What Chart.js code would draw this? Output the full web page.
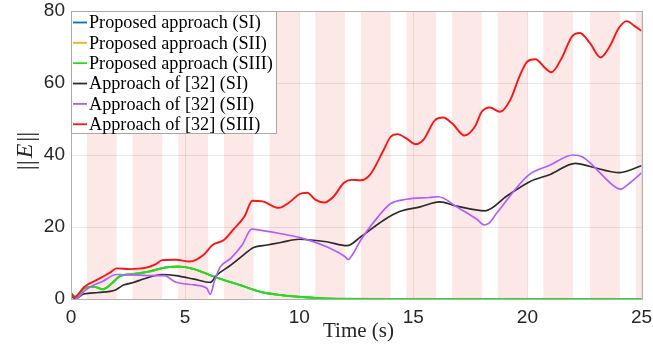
<!DOCTYPE html>
<html><head><meta charset="utf-8">
<script src="https://cdn.jsdelivr.net/npm/chart.js@4.4.1/dist/chart.umd.min.js"></script>
<style>html,body{margin:0;padding:0;background:#fff}#wrap{width:653px;height:349px}</style>
</head><body><div id="wrap"><canvas id="c" width="653" height="349"></canvas></div>
<script>
// ---------- data ----------
const xTicks = [0, 5, 10, 15, 20, 25];
const yTicks = [0, 20, 40, 60, 80];
const seriesNames = ['Proposed approach (SI)', 'Proposed approach (SII)', 'Proposed approach (SIII)',
  'Approach of [32] (SI)', 'Approach of [32] (SII)', 'Approach of [32] (SIII)'];
const bandStarts = [0.7, 2.7, 4.7, 6.7, 8.7, 10.7, 12.7, 14.7, 16.7, 18.7, 20.7, 22.75, 24.75];
const bandEnds   = [2.0, 4.0, 6.0, 8.0, 10.0, 12.0, 14.0, 16.0, 18.0, 20.0, 22.0, 24.05, 25.0];

const proposedSI = [[0,1.6],[0.18,0.6],[0.6,3],[1.0,3.4],[1.4,2.7],[1.8,4.4],[2.15,6.4],[2.7,6.9],[3.4,7.6],[4.1,8.7],[4.7,9.0],[5.4,8.3],[5.7,7.6],[6.5,5.7],[7.4,3.9],[8.3,2.0],[9.2,1.1],[10.0,0.6],[11,0.2],[12,0.05],[14,0],[25,0]];
const proposedSII = [[0,1.6],[0.18,0.6],[0.6,3],[1.0,3.4],[1.4,2.7],[1.8,4.4],[2.15,6.4],[2.7,6.9],[3.4,7.6],[4.1,8.7],[4.7,9.0],[5.4,8.3],[5.7,7.6],[6.5,5.7],[7.4,3.9],[8.3,2.0],[9.2,1.1],[10.0,0.6],[11,0.2],[12,0.05],[14,0],[25,0]];
const proposedSIII = [[0,1.6],[0.18,0.6],[0.6,3],[1.0,3.4],[1.4,2.7],[1.8,4.4],[2.15,6.4],[2.7,6.9],[3.4,7.6],[4.1,8.7],[4.7,9.0],[5.4,8.3],[5.7,7.6],[6.5,5.7],[7.4,3.9],[8.3,2.0],[9.2,1.1],[10.0,0.6],[11,0.2],[12,0.05],[14,0],[25,0]];
const ref32SI = [[0,0.8],[0.2,0.1],[0.55,1.4],[1.2,1.8],[1.95,2.5],[2.3,3.9],[2.7,4.5],[3.25,5.7],[4.0,6.8],[4.6,6.5],[5.4,5.5],[6.1,4.6],[6.4,6.7],[7.0,9.4],[7.55,12.2],[8.0,14.3],[8.6,15],[9.2,15.7],[10.0,16.6],[11.2,15.9],[12.1,14.8],[12.7,17.3],[13.7,21.9],[14.4,24.3],[15.3,25.6],[16.15,27],[16.9,25.8],[18.15,24.5],[19.1,28.6],[20.1,32.6],[21.0,34.6],[22.1,37.7],[22.75,36.8],[24.05,35.1],[25,37]];
const ref32SII = [[0,1.1],[0.25,0.2],[0.55,2],[0.85,3.4],[1.35,4.8],[2.0,6.8],[2.7,6.7],[3.4,6.5],[4.1,6.5],[4.55,4.8],[5.4,3.9],[5.95,3.0],[6.1,1.3],[6.3,5.3],[6.55,9],[7.0,11.3],[7.5,15],[7.92,19.4],[8.4,19],[9.15,18.2],[10.0,17.1],[11.2,14.5],[12.0,11.8],[12.15,11],[12.35,12.5],[12.7,16.4],[13.4,22.4],[13.98,26.4],[14.7,27.7],[15.7,28.2],[16.1,28.4],[16.9,25.6],[17.8,22.1],[18.1,20.6],[18.3,21],[18.65,23.8],[20.05,34.4],[21.0,37.2],[22.0,40],[22.4,39.5],[23.9,30.9],[24.1,30.5],[24.3,31.3],[25,35]];
const ref32SIII = [[0,1.5],[0.15,0.6],[0.6,3.5],[1.2,5.5],[1.7,7.3],[2.0,8.5],[2.6,8.3],[3.3,8.7],[3.7,9.6],[4.0,10.8],[4.6,10.9],[5.2,10.4],[5.8,12.2],[6.2,15],[6.7,16.4],[7.1,19.2],[7.6,22.9],[7.95,27.3],[8.4,27.1],[9.1,25.3],[9.6,27],[10.0,29.1],[10.35,29.5],[10.7,27.6],[11.1,26.8],[11.5,28.4],[11.95,32.2],[12.3,33.1],[12.7,33],[13.1,34.5],[13.7,41.4],[14.0,45],[14.3,45.8],[14.7,44.6],[15.1,43],[15.45,44.3],[15.95,49.7],[16.3,50.4],[16.7,48.8],[17.25,45.4],[17.7,47.9],[18.0,52],[18.35,53.2],[18.8,52],[19.25,55.3],[19.65,61.8],[20.0,66],[20.35,66.6],[20.8,64],[21.05,63],[21.5,66.9],[21.95,72.9],[22.3,73.9],[22.75,71],[23.2,67.1],[23.6,70.1],[24.0,75.2],[24.35,77.2],[24.7,75.8],[25,74.5]];

const seriesData = [proposedSI, proposedSII, proposedSIII, ref32SI, ref32SII, ref32SIII];
const seriesColors = ['#0072bd', '#edb120', '#1be01b', '#2b2b2b', '#b45cff', '#ff1414'];

// ---------- plugins ----------
const bandsPlugin = {
  id: 'bands',
  beforeDraw(chart) {
    const {ctx, chartArea: a, scales: {x}} = chart;
    ctx.save();
    ctx.fillStyle = '#fde8e8';
    for (let i = 0; i < bandStarts.length; i++) {
      const x1 = x.getPixelForValue(bandStarts[i]);
      const x2 = x.getPixelForValue(Math.min(bandEnds[i], x.max));
      ctx.fillRect(x1, a.top, x2 - x1, a.bottom - a.top);
    }
    ctx.restore();
  }
};

const decorPlugin = {
  id: 'decor',
  afterDraw(chart) {
    const {ctx, chartArea: a} = chart;
    ctx.save();
    // axes box
    ctx.strokeStyle = '#b0b0b0';
    ctx.lineWidth = 1;
    ctx.strokeRect(Math.round(a.left) + 0.5, Math.round(a.top) + 0.5, Math.round(a.right - a.left), Math.round(a.bottom - a.top));

    // legend
    const lx = Math.round(a.left) + 0.5, ly = Math.round(a.top) + 0.5, lw = 205, lh = 122;
    ctx.fillStyle = '#fff';
    ctx.fillRect(lx, ly, lw, lh);
    ctx.strokeStyle = '#a8a8a8';
    ctx.strokeRect(lx, ly, lw, lh);
    let fs = 17;
    ctx.font = fs + 'px "Liberation Serif"';
    const m = ctx.measureText('Proposed approach (SIII)').width;
    fs = fs * 184 / m;
    ctx.font = fs.toFixed(2) + 'px "Liberation Serif"';
    ctx.textBaseline = 'middle';
    ctx.textAlign = 'left';
    for (let i = 0; i < seriesNames.length; i++) {
      const yy = ly + 11 + i * 20.35;
      ctx.strokeStyle = seriesColors[i];
      ctx.lineWidth = 1.8;
      ctx.beginPath();
      ctx.moveTo(lx + 1.5, yy);
      ctx.lineTo(lx + 15.5, yy);
      ctx.stroke();
      ctx.fillStyle = '#000';
      ctx.fillText(seriesNames[i], lx + 17.5, yy + 1);
    }

    // x title
    ctx.fillStyle = '#262626';
    ctx.font = '21px "Liberation Serif"';
    ctx.textAlign = 'center';
    ctx.textBaseline = 'alphabetic';
    ctx.fillText('Time (s)', 358.5, 337);

    // y title ||E||
    ctx.translate(32, 151);
    ctx.rotate(-Math.PI / 2);
    const fBar = '25px "Liberation Serif"';
    const fE = 'italic 24px "Liberation Serif"';
    ctx.font = fBar; const wb = ctx.measureText('||').width;
    ctx.font = fE; const we = ctx.measureText('E').width;
    const tot = wb * 2 + we + 4;
    let cx = -tot / 2;
    ctx.textAlign = 'left';
    ctx.font = fBar; ctx.fillText('||', cx, 2); cx += wb + 2;
    ctx.font = fE; ctx.fillText('E', cx, 0); cx += we + 2;
    ctx.font = fBar; ctx.fillText('||', cx, 2);
    ctx.restore();
  }
};

// ---------- chart ----------
const datasets = seriesData.map((d, i) => ({
  label: seriesNames[i],
  data: d.map(p => ({x: p[0], y: p[1]})),
  borderColor: seriesColors[i],
  backgroundColor: seriesColors[i],
  borderWidth: i === 5 ? 1.9 : (i === 2 ? 2 : 1.7),
  pointRadius: 0,
  cubicInterpolationMode: 'monotone',
  fill: false,
  order: 6 - i
}));

const tickFont = {family: '"Liberation Sans", Arial, sans-serif', size: 19};

new Chart(document.getElementById('c'), {
  type: 'line',
  data: {datasets},
  options: {
    responsive: false,
    animation: false,
    devicePixelRatio: 1,
    layout: {padding: {top: 11, right: 11.5, left: 0, bottom: 0}},
    plugins: {legend: {display: false}, tooltip: {enabled: false}},
    scales: {
      x: {
        type: 'linear', min: 0, max: 25,
        afterBuildTicks: s => { s.ticks = xTicks.map(v => ({value: v})); },
        afterFit: s => { s.height = 50; s.paddingLeft = 0; s.paddingRight = 0; },
        ticks: {font: tickFont, color: '#262626', padding: 7, maxRotation: 0, autoSkip: false},
        grid: {color: 'rgba(0,0,0,0.09)', drawTicks: false},
        border: {display: false}
      },
      y: {
        type: 'linear', min: 0, max: 80,
        afterBuildTicks: s => { s.ticks = yTicks.map(v => ({value: v})); },
        afterFit: s => { s.width = 71; s.paddingTop = 0; s.paddingBottom = 0; },
        ticks: {font: tickFont, color: '#262626', padding: 6, autoSkip: false},
        grid: {color: 'rgba(0,0,0,0.09)', drawTicks: false},
        border: {display: false}
      }
    }
  },
  plugins: [bandsPlugin, decorPlugin]
});
</script>
</body></html>
